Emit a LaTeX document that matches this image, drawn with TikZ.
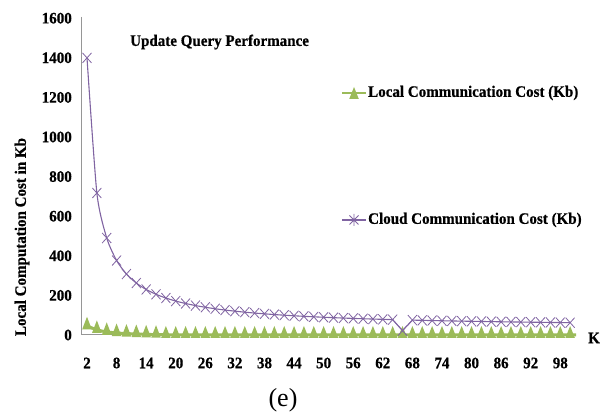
\documentclass[tikz,border=0pt]{standalone}
\usepackage{fontspec}
\setmainfont{Liberation Serif}
\newfontfamily\chartfont[FakeStretch=0.94,FakeBold=0.6]{Liberation Serif}
\definecolor{cloudpurple}{RGB}{128,100,162}
\definecolor{localgreen}{RGB}{155,187,89}
\definecolor{axisgray}{RGB}{150,150,150}
\tikzset{
  ticklbl/.style={font=\chartfont\bfseries\fontsize{16}{16}\selectfont, inner sep=0pt},
  lgdlbl/.style={font=\chartfont\bfseries\fontsize{16}{16}\selectfont, inner sep=0pt, anchor=west},
  cloudline/.style={draw=cloudpurple, line width=1.1pt},
  localline/.style={draw=localgreen, line width=3pt},
  xmark/.style={draw=cloudpurple, line width=0.8pt},
  trimark/.style={fill=localgreen, draw=none}
}
% data to page: x = 87 + (K-2)*4.93, y = 84 + v*0.198 (units: pt)
\begin{document}
\begin{tikzpicture}[x=1pt,y=1pt]
\useasboundingbox (0,0) rectangle (616,419);
% axes
\coordinate (o) at (81,84);
\coordinate (ytop) at (81,402);
\coordinate (xend) at (576,84);
\draw[axisgray, line width=1pt] (ytop) -- (o) -- (xend);
% y tick labels
\foreach \v in {0,200,...,1600} {
  \node[ticklbl, anchor=east] (yl\v) at (72,{84+\v*0.198}) {\v};
}
% x tick labels
\foreach \k in {2,8,...,98} {
  \node[ticklbl, anchor=center] (xl\k) at ({87+(\k-2)*4.93},56) {\k};
}
\node[ticklbl, anchor=center] (klabel) at (594,81) {K};
% y axis title
\node[ticklbl, rotate=90] (ytitle) at (22,182) {Local Computation Cost in Kb};
% chart title
\node[lgdlbl] (title) at (130,377) {Update Query Performance};
% local communication cost (green)
\draw[localline] plot coordinates {(87,93) (96.9,89) (106.7,87) (116.6,86) (126.4,85.4) (136.3,85) (146.1,84.6) (156,84.4) (165.9,84.2)}
  -- (576,84);
\foreach \k/\v in {2/44,4/26,6/16,8/10,10/7,12/5,14/3,16/1.5} {
  \fill[trimark] ({87+(\k-2)*4.93-4.8},{81+\v*0.198}) -- ++(9.6,0) -- ++(-4.8,12.5) -- cycle;
}
\foreach \k in {18,20,...,100} {
  \fill[trimark] ({87+(\k-2)*4.93-4.8},81) -- ++(9.6,0) -- ++(-4.8,12) -- cycle;
}
% cloud communication cost (purple)
\draw[cloudline] plot[smooth, tension=0.4, domain=2:64, samples=32] ({87+(\x-2)*4.93},{84+(2729/\x+35)*0.198})
  -- ({87+(66-2)*4.93},{84+22*0.198})
  -- plot[smooth, tension=0.4, domain=68:100, samples=17] ({87+(\x-2)*4.93},{84+(2729/\x+35)*0.198});
\foreach \k in {2,4,...,100} {
  \pgfmathsetmacro{\cv}{ifthenelse(\k==66,22,2729/\k+35)}
  \draw[xmark] ({87+(\k-2)*4.93-4.5},{84+\cv*0.198-5}) -- ++(9,10)
               ({87+(\k-2)*4.93-4.5},{84+\cv*0.198+5}) -- ++(9,-10);
}
% legend
\coordinate (lg1a) at (342,326);
\coordinate (lg1b) at (366,326);
\draw[localgreen, line width=1.5pt] (lg1a) -- (lg1b);
\fill[trimark] (349.2,320) -- ++(9.6,0) -- ++(-4.8,12) -- cycle;
\node[lgdlbl] (lg1) at (368,326) {Local Communication Cost (Kb)};
\coordinate (lg2a) at (342,199);
\coordinate (lg2b) at (366,199);
\draw[cloudpurple, line width=1.1pt] (lg2a) -- (lg2b);
\draw[xmark] (349.5,194.5) -- ++(9,9) (349.5,203.5) -- ++(9,-9) (354,193) -- ++(0,12);
\node[lgdlbl] (lg2) at (368,199) {Cloud Communication Cost (Kb)};
% caption
\node[font=\fontsize{26}{26}\selectfont, inner sep=0pt] (cap) at (283,19) {(e)};
\end{tikzpicture}
\end{document}
